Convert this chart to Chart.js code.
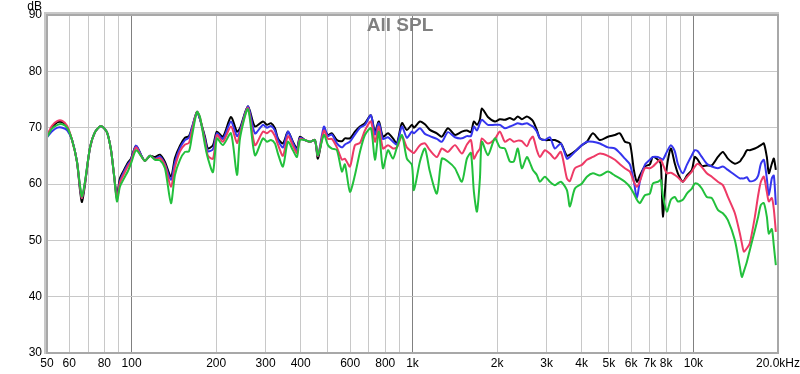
<!DOCTYPE html>
<html>
<head>
<meta charset="utf-8">
<script src="https://cdn.jsdelivr.net/npm/chart.js@4.4.1/dist/chart.umd.min.js"></script>
<style>
  html, body { margin: 0; padding: 0; background: #fff; }
  #wrap { width: 800px; height: 374px; }
</style>
</head>
<body>
<div id="wrap"><canvas id="spl"></canvas></div>
<script>
// frequencies in Hz, shared by all four traces
const freqs = [
  50, 52, 54.5, 56.7, 59, 61.4, 63.9, 65.5, 66.6, 68.3, 71.1, 74.1, 77.8, 81.7, 84.5, 86.6, 88.7, 90.9, 94, 97.1,
  99.5, 103.7, 108, 111.6, 116.3, 121.2, 126.2, 131.5, 138.1, 142.7, 148.7, 154.9, 160.1, 164.1,
  170.9, 175.2, 182.5, 187.1, 194.9, 201.3, 211.5, 225.8, 237.2, 243.2, 259.6, 274.9, 293.5, 303.3, 313.4, 323.8,
  331.9, 345.8, 360.2, 375.3, 387.8, 397.5, 414.1, 431.4, 449.4, 460.6, 483.9, 500, 516.7, 538, 560.8, 574.7,
  598.8, 624, 650, 677, 711, 735, 759, 785, 818, 852, 880, 917, 955, 995,
  1012, 1063, 1107, 1153, 1221, 1272, 1337, 1416, 1499, 1562, 1614, 1654, 1696, 1738, 1766, 1855, 1965, 2047, 2132, 2221,
  2295, 2371, 2450, 2553, 2617, 2683, 2771, 2840, 2959, 3083, 3212, 3374, 3545, 3632, 3785, 4009, 4177, 4386, 4646, 4961,
  5253, 5473, 5702, 5940, 6137, 6290, 6447, 6716, 6997, 7172, 7472, 7657, 7783, 8042, 8310, 8587, 8800, 9169, 9475, 9871,
  10117, 10368, 10713, 11160, 11628, 12218, 12729, 13262, 14045, 14632, 14870, 15119, 15500, 15880, 16550, 17000, 17380, 17813, 18250, 18550,
  19016, 19330, 19650
];

// SPL in dB
const splBlack = [
  68.5, 70, 71, 71, 70, 67.8, 64, 59, 56.8, 60, 66.4, 69.2, 70.3, 69.2, 66, 61.6, 58, 61, 62.5, 63.8,
  64.5, 66.8, 65.2, 64.1, 65, 64.8, 65.2, 63.9, 61.3, 64.6, 66.8, 68.2, 68.5, 70,
  72.8, 71.5, 68.4, 66.3, 66.9, 69.3, 68.4, 71.9, 69.3, 69.9, 73.8, 70.2, 71.1, 70.5, 70.8, 69.9,
  68.1, 67.2, 69.3, 67.5, 66.3, 68.4, 67.8, 67.5, 67.8, 64.5, 69.5, 68.7, 69, 67.8, 67.6, 68.1,
  68.1, 69.3, 70.2, 70.8, 72.2, 69.3, 71.1, 68.4, 69, 68.1, 67.2, 70.8, 69.6, 70.5,
  70, 71.1, 70.6, 69.6, 69, 68.4, 69.9, 68.7, 69.3, 69.5, 69.2, 71.1, 70.5, 71.5, 73.4, 71.9, 71.1, 71.5, 71.4, 71.7,
  71.4, 72, 71.5, 72, 71.7, 71.2, 69.6, 68.1, 67.8, 67.8, 67.8, 67.2, 65, 65.2, 65.8, 66.9, 67.5, 69, 67.8, 68.4,
  68.7, 69, 67.5, 67.2, 62.5, 60.4, 61.5, 63.1, 63.5, 64.8, 64.3, 63.5, 54.2, 63, 66.3, 63.6, 61.9, 60.4, 61.5, 62.5,
  64.8, 64.3, 63.2, 63.3, 63.3, 64.8, 65.7, 64.5, 63.6, 64, 64.5, 65, 66, 66, 66.3, 66.6, 66.9, 67.2, 64.8, 61.9,
  63.6, 64.5, 62.5
];
const splBlue = [
  68.3, 69.3, 70, 70, 69.5, 67.8, 64, 59.5, 57.5, 60.3, 66.4, 69.2, 70.3, 69.2, 66, 61.6, 57.5, 60.5, 62.2, 63.5,
  64.3, 66.8, 65.2, 64.1, 65, 64.5, 64.9, 63.5, 60.7, 63.9, 66.4, 67.8, 68.2, 70,
  72.8, 71.5, 68, 65.8, 66.2, 69, 68, 71.1, 68.5, 69.5, 73.8, 69, 70.5, 70, 70.3, 69.5,
  67.8, 66.5, 69.3, 67.3, 66, 68.2, 67.8, 67.5, 67.8, 65, 70.2, 68.5, 68.8, 67.2, 66.5, 67,
  67.5, 68.8, 70, 70.5, 72.2, 68.8, 70.8, 68, 68.3, 67.5, 67, 70.2, 68.2, 69.3,
  69, 69.9, 68.9, 68.5, 68, 67.5, 69.2, 68.3, 68.1, 68.5, 68.5, 70.2, 69.5, 70.8, 71.4, 70.5, 70.5, 70.5, 69.9, 70.2,
  70.5, 70.8, 70.6, 70.8, 70.5, 70.2, 69.3, 68.1, 67.8, 68.3, 66.3, 67.2, 64.5, 64.8, 65.7, 66.9, 67.5, 67.5, 67.2, 66.5,
  66.3, 65.5, 64.5, 63.5, 60.5, 57.5, 60.5, 63.4, 64.3, 64.8, 64.8, 64.5, 64.3, 65.7, 66.9, 65.8, 63.6, 61.9, 63.4, 65.1,
  66, 65.8, 64.8, 63.6, 63.1, 62.8, 63.1, 62.5, 61.6, 61, 61, 61, 61.2, 60.5, 60.7, 61.5, 63.6, 64.3, 61, 58,
  61, 61.5, 56.3
];
const splRed = [
  68.5, 70.3, 71.2, 71.2, 70.3, 67.8, 64, 59.5, 57.5, 60.3, 66.4, 69.2, 70.3, 69.2, 66, 61.6, 57.3, 60.2, 61.8, 63.2,
  64, 66.5, 65, 64.1, 65, 64.4, 64.6, 63.3, 59.5, 63, 65.8, 67, 67.3, 69.5,
  72.8, 71.8, 67.5, 65, 64.5, 68.7, 67.5, 70.2, 67.3, 69, 73.5, 66.9, 69.3, 69, 69.5, 68.5,
  67, 65, 68.5, 66.8, 65.5, 68, 67.8, 67.5, 67.8, 65, 69.5, 68, 68, 66.5, 64.3, 64.5,
  63.1, 66.9, 67.3, 69.5, 71.1, 67.5, 70.2, 66.3, 66.9, 66.3, 66.5, 68.5, 66.5, 65.7,
  65.5, 66.9, 67.2, 66, 64.8, 66.3, 65.7, 66.9, 65.4, 67, 67.8, 64.5, 65.5, 66.3, 68.1, 67.2, 68, 69.3, 67.5, 68,
  67.5, 67.7, 67.6, 66.7, 67.8, 68.4, 66, 64.8, 66, 65.4, 64.5, 65.7, 61, 60.5, 62.8, 63.4, 64.3, 64.8, 65.4, 65,
  64.3, 63.5, 62.8, 62.2, 60.4, 59.5, 60.5, 62.8, 62.8, 63.1, 64, 64.3, 63.5, 61.9, 62, 61.6, 61.2, 60.4, 61.2, 62.2,
  63.1, 63.6, 63, 61.9, 61.3, 60.4, 59.8, 57.7, 54.8, 51.2, 49.5, 48, 48.6, 49.5, 54.2, 58, 60.4, 61.3, 58.6, 56.9,
  57.5, 55.5, 51.5
];
const splGreen = [
  68.3, 69.8, 70.5, 70.6, 70, 67.8, 64, 59.8, 57.8, 60.5, 66.4, 69.2, 70.3, 69.2, 66, 61.6, 56.9, 59.5, 61, 62.3,
  63.6, 66, 65, 64.1, 65, 64.3, 64.2, 62.8, 56.6, 61.6, 64.3, 65.7, 65.8, 68.5,
  72.8, 71.9, 66.9, 64.5, 62.1, 68.1, 66.9, 69, 61.6, 68.1, 73.3, 65.1, 68.1, 67.5, 67.8, 67.2,
  65.4, 63.1, 67.5, 66, 64.8, 67.8, 67.8, 67.5, 67.8, 65.1, 68.7, 66.9, 66.3, 66, 62.2, 63.5,
  58.6, 61.6, 65.7, 68.7, 69.9, 64.3, 69.3, 62.8, 66, 64.5, 66.5, 68.7, 64.5, 63.4,
  58.9, 64, 66.3, 62.2, 58.3, 64.5, 64, 62.8, 60.4, 64.5, 65.5, 58.6, 55.1, 61, 67.5, 65.1, 68.1, 66.5, 66.3, 64,
  64, 66.3, 62.8, 64.8, 63.8, 62.5, 61.6, 60.4, 61.3, 60.4, 59.8, 60.4, 58.9, 56, 59.2, 60.1, 61.3, 61.9, 61.5, 62.2,
  61.5, 61, 60.4, 59.5, 58.3, 57.2, 56.6, 58, 58.3, 60.1, 60.4, 60.7, 58, 55.1, 57.2, 57.7, 56.9, 57.2, 58.3, 59.2,
  60.1, 60, 59.2, 57.7, 57.5, 55.4, 54.8, 53.6, 50, 45.3, 43.5, 44.5, 46.2, 48.3, 51.8, 54.2, 56.3, 56.6, 54.2, 51.2,
  52, 49, 45.6
];

// x axis ticks (Hz) and their labels; unlabeled ones only get a grid line
const xTicks = [50, 60, 70, 80, 90, 100, 200, 300, 400, 500, 600, 700, 800, 900,
  1000, 2000, 3000, 4000, 5000, 6000, 7000, 8000, 9000, 10000, 20000];
const xLabels = {
  50: '50', 60: '60', 80: '80', 100: '100', 200: '200', 300: '300', 400: '400', 600: '600', 800: '800',
  1000: '1k', 2000: '2k', 3000: '3k', 4000: '4k', 5000: '5k', 6000: '6k', 7000: '7k', 8000: '8k',
  10000: '10k', 20000: '20.0kHz'
};
const decades = [100, 1000, 10000];

const toPoints = vals => freqs.map((f, i) => ({ x: f, y: vals[i] }));

const overlay = {
  id: 'overlay',
  afterDraw(chart) {
    const { ctx, chartArea: a } = chart;
    ctx.save();
    // frame
    ctx.strokeStyle = '#a8a8a8';
    ctx.lineWidth = 2;
    ctx.strokeRect(a.left, a.top, a.right - a.left, a.bottom - a.top);
    ctx.strokeStyle = '#c8c8c8';
    ctx.lineWidth = 2;
    ctx.beginPath();
    ctx.moveTo(a.left - 2, a.bottom + 1);
    ctx.lineTo(a.left - 2, a.top - 2);
    ctx.lineTo(a.right + 1, a.top - 2);
    ctx.stroke();
    // title + unit
    ctx.fillStyle = '#808080';
    ctx.font = 'bold 19px "Liberation Sans", Arial, sans-serif';
    ctx.textAlign = 'center';
    ctx.textBaseline = 'middle';
    ctx.fillText('All SPL', 400, 26);
    ctx.fillStyle = '#000';
    ctx.font = '12px "Liberation Sans", Arial, sans-serif';
    ctx.textAlign = 'right';
    ctx.fillText('dB', 42, 7);
    ctx.restore();
  }
};

const line = (label, vals, color, order) => ({
  label, data: toPoints(vals), borderColor: color, backgroundColor: color,
  borderWidth: 2, pointRadius: 0, showLine: true, tension: 0.25, order
});

new Chart(document.getElementById('spl'), {
  type: 'scatter',
  data: {
    datasets: [
      line('Black', splBlack, '#000000', 3),
      line('Blue', splBlue, '#3535ee', 2),
      line('Red', splRed, '#ee3a66', 1),
      line('Green', splGreen, '#22c03c', 0)
    ]
  },
  options: {
    responsive: true,
    maintainAspectRatio: false,
    animation: false,
    layout: { padding: { top: 15, right: 22, left: 0, bottom: 0 } },
    plugins: { legend: { display: false }, tooltip: { enabled: false } },
    scales: {
      x: {
        type: 'logarithmic',
        min: 50,
        max: 20000,
        afterBuildTicks: scale => { scale.ticks = xTicks.map(v => ({ value: v })); },
        afterFit: scale => { scale.height = 21; scale.paddingLeft = 0; scale.paddingRight = 0; },
        ticks: {
          autoSkip: false,
          maxRotation: 0,
          padding: 3,
          color: '#000',
          font: { family: '"Liberation Sans", Arial, sans-serif', size: 12 },
          callback: v => xLabels[v] || ''
        },
        grid: {
          drawTicks: false,
          color: c => decades.includes(c.tick && c.tick.value) ? '#808080' : '#c8c8c8'
        },
        border: { display: false }
      },
      y: {
        min: 30,
        max: 90,
        afterFit: scale => { scale.width = 47; scale.paddingTop = 0; scale.paddingBottom = 0; },
        ticks: {
          stepSize: 10,
          padding: 5,
          color: '#000',
          font: { family: '"Liberation Sans", Arial, sans-serif', size: 12 }
        },
        grid: { drawTicks: false, color: '#c8c8c8' },
        border: { display: false }
      }
    }
  },
  plugins: [overlay]
});
</script>
</body>
</html>
